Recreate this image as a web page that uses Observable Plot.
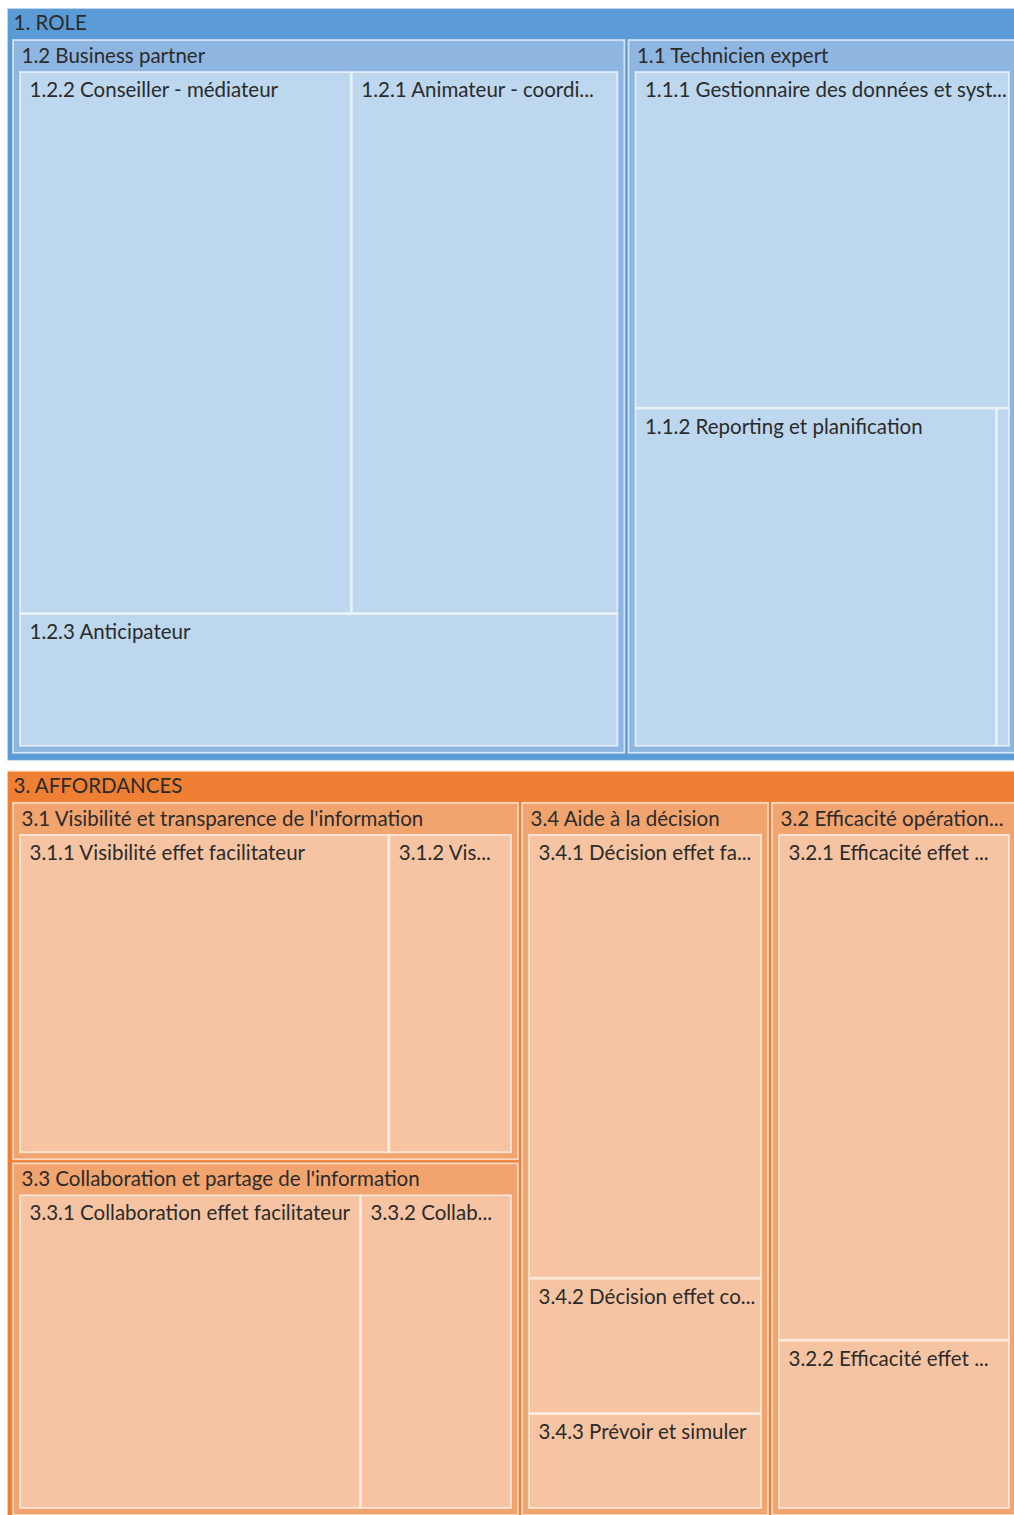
<!DOCTYPE html>
<html>
<head>
<meta charset="utf-8">
<script src="https://cdn.jsdelivr.net/npm/d3@7"></script>
<script src="https://cdn.jsdelivr.net/npm/@observablehq/plot@0.6"></script>
<style>
html, body { margin: 0; padding: 0; background: #fff; overflow: hidden; }
#chart { width: 1014px; height: 1515px; overflow: hidden; }
</style>
</head>
<body>
<div id="chart"></div>
<script>
// ---- data ----
const topGroups = ["1. ROLE", "3. AFFORDANCES"];
const topColors = ["#5B9BD5", "#EE7F33"];
const midColors = ["#8EB6E1", "#F2A46F"];
const leafColors = ["#BDD7EE", "#F6C4A2"];

const midGroups = [
  "1.2 Business partner",
  "1.1 Technicien expert",
  "3.1 Visibilité et transparence de l'information",
  "3.3 Collaboration et partage de l'information",
  "3.4 Aide à la décision",
  "3.2 Efficacité opération..."
];
const midParents = ["1. ROLE", "1. ROLE", "3. AFFORDANCES", "3. AFFORDANCES", "3. AFFORDANCES", "3. AFFORDANCES"];

const leafLabels = [
  "1.2.2 Conseiller - médiateur",
  "1.2.1 Animateur - coordi...",
  "1.2.3 Anticipateur",
  "1.1.1 Gestionnaire des données et syst...",
  "1.1.2 Reporting et planification",
  "1.1.3",
  "3.1.1 Visibilité effet facilitateur",
  "3.1.2 Vis...",
  "3.3.1 Collaboration effet facilitateur",
  "3.3.2 Collab...",
  "3.4.1 Décision effet fa...",
  "3.4.2 Décision effet co...",
  "3.4.3 Prévoir et simuler",
  "3.2.1 Efficacité effet ...",
  "3.2.2 Efficacité effet ..."
];
const leafParents = [
  "1.2 Business partner", "1.2 Business partner", "1.2 Business partner",
  "1.1 Technicien expert", "1.1 Technicien expert", "1.1 Technicien expert",
  "3.1 Visibilité et transparence de l'information", "3.1 Visibilité et transparence de l'information",
  "3.3 Collaboration et partage de l'information", "3.3 Collaboration et partage de l'information",
  "3.4 Aide à la décision", "3.4 Aide à la décision", "3.4 Aide à la décision",
  "3.2 Efficacité opération...", "3.2 Efficacité opération..."
];
const leafValues = [136.5, 109.7, 60.3, 97.3, 94.3, 3.4, 95.7, 31.8, 87.2, 38.6, 81.9, 25.0, 17.5, 92.6, 30.8];

// ---- hierarchy ----
const data = {
  name: "root",
  children: topGroups.map((t, ti) => ({
    name: t, group: ti,
    children: midGroups.map((m, mi) => ({m, mi})).filter(o => midParents[o.mi] === t).map(o => ({
      name: o.m, group: ti,
      children: leafLabels.map((l, li) => ({l, li})).filter(p => leafParents[p.li] === o.m).map(p => ({
        name: p.l, group: ti, value: leafValues[p.li]
      }))
    }))
  }))
};

const W = 1015, H = 1515;
const tile = (node, x0, y0, x1, y1) =>
  node.depth === 0 ? d3.treemapSlice(node, x0, y0, x1, y1) : d3.treemapSquarify(node, x0, y0, x1, y1);

const root = d3.hierarchy(data).sum(d => d.value || 0);
d3.treemap()
  .size([W, H])
  .tile(tile)
  .paddingInner(d => [10, 4, 1][d.depth] ?? 0)
  .paddingTop(d => [0, 32, 32][d.depth] ?? 0)
  .paddingLeft(d => [0, 6, 7][d.depth] ?? 0)
  .paddingRight(d => [0, 6, 7][d.depth] ?? 0)
  .paddingBottom(d => [0, 8, 7][d.depth] ?? 0)(root);

const nodes = root.descendants().filter(d => d.depth > 0);
const fillOf = d => (d.depth === 1 ? topColors : d.depth === 2 ? midColors : leafColors)[d.data.group];

const textOpts = (depth, dx, dy) => Plot.text(
  nodes.filter(d => d.depth === depth && (d.x1 - d.x0) > 40),
  {
    x: d => d.x0, y: d => d.y0, text: d => d.data.name,
    textAnchor: "start", lineAnchor: "top", dx, dy,
    fontSize: 20.5, fontFamily: "Lato", fill: "#2b2b2b"
  }
);

const chart = Plot.plot({
  width: 1014,
  height: 1515,
  margin: 0,
  x: {domain: [0, W], range: [7, 7 + W], axis: null},
  y: {domain: [0, H], range: [8, 8 + H], axis: null},
  color: {type: "identity"},
  marks: [
    Plot.rect(nodes, {
      x1: d => d.x0, x2: d => d.x1, y1: d => d.y0, y2: d => d.y1,
      fill: fillOf, stroke: "#ffffff", strokeOpacity: 0.65, strokeWidth: 1.8
    }),
    textOpts(1, 6, 7),
    textOpts(2, 8, 8),
    textOpts(3, 9, 10)
  ]
});
document.getElementById("chart").appendChild(chart);
</script>
</body>
</html>
